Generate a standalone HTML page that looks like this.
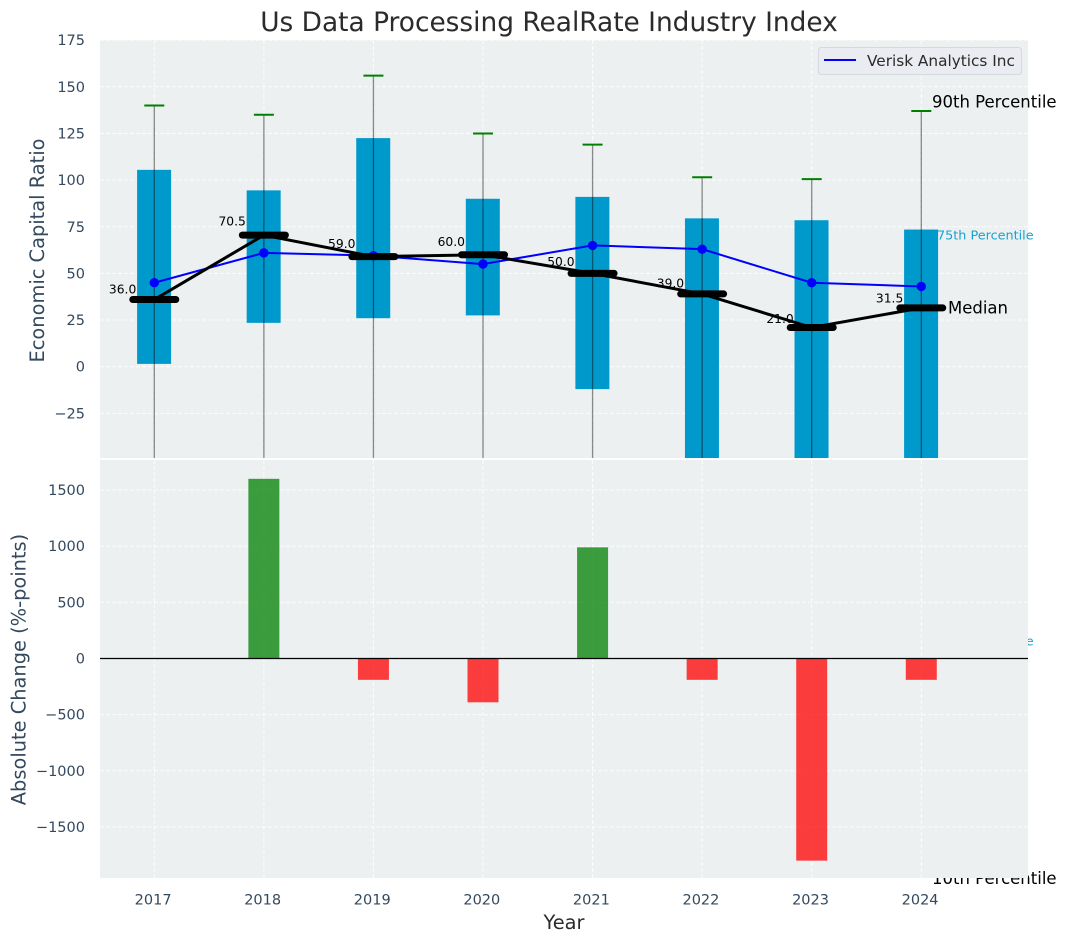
<!DOCTYPE html>
<html><head><meta charset="utf-8"><title>Us Data Processing RealRate Industry Index</title>
<style>html,body{margin:0;padding:0;background:#fff}svg{display:block}text{font-family:"DejaVu Sans",sans-serif}</style>
</head><body>
<svg id="chart" xmlns="http://www.w3.org/2000/svg" width="1067" height="942" viewBox="0 0 1067 942"></svg>
<script>
const years = [2017, 2018, 2019, 2020, 2021, 2022, 2023, 2024];
const p90 = [140, 135, 156, 125, 119, 101.5, 100.5, 137];
const p75 = [105.5, 94.5, 122.5, 90, 91, 79.5, 78.5, 73.5];
const medians = [36, 70.5, 59, 60, 50, 39, 21, 31.5];
const p25 = [1.5, 23.5, 26, 27.5, -12, -75, -100, -147];
const p10 = [-110, -90, -70, -100, -130, -150, -170, -274];
const verisk = [45, 61, 59.5, 55, 65, 63, 45, 43];
const changeYears = [2018, 2019, 2020, 2021, 2022, 2023, 2024];
const changes = [1600, -190, -390, 990, -190, -1800, -190];
const topTicks = [175, 150, 125, 100, 75, 50, 25, 0, -25];
const bottomTicks = [1500, 1000, 500, 0, -500, -1000, -1500];

const NS = 'http://www.w3.org/2000/svg';
const svg = document.getElementById('chart');
const L = 100, R = 1028, T1 = 40, B1 = 458, T2 = 460, B2 = 878;
const X = v => 154.3 + (v - 2017) * 109.57;
const Y1 = v => 366.7 - v * 1.866;
const Y2 = v => 658.5 - v * 0.1123;

function el(tag, attrs, parent, txt) {
  const e = document.createElementNS(NS, tag);
  for (const k in attrs) e.setAttribute(k, attrs[k]);
  if (txt !== undefined) e.textContent = txt;
  (parent || svg).appendChild(e);
  return e;
}
function minus(v) { return String(v).replace('-', '\u2212'); }

const defs = el('defs', {});


const cp1 = el('clipPath', { id: 'clip-top' }, defs);
el('rect', { x: L, y: T1, width: R - L, height: B1 - T1 }, cp1);
const cp2 = el('clipPath', { id: 'clip-bottom' }, defs);
el('rect', { x: L, y: T2, width: R - L, height: B2 - T2 }, cp2);

const title = el('text', { x: 549, y: 31, 'text-anchor': 'middle', 'font-size': 26.4, fill: '#2b2b2b' }, svg, 'Us Data Processing RealRate Industry Index');



/* ---- top panel ---- */
const topPanel = el('g', {});


const topBg = el('rect', { x: L, y: T1, width: R - L, height: B1 - T1, fill: '#ecf0f1' }, topPanel);



const clipTop = el('g', { 'clip-path': 'url(#clip-top)' }, topPanel);



topTicks.forEach(t => {
  const g = el('line', { x1: L, x2: R, y1: Y1(t), y2: Y1(t), stroke: '#fff', 'stroke-width': 1, 'stroke-dasharray': '4 2', opacity: 0.85 }, clipTop);
  
  
  const lab = el('text', { x: 85, y: Y1(t) + 5, 'text-anchor': 'end', 'font-size': 14.5, fill: '#34495e' }, topPanel, minus(t));
  
  
});
years.forEach(y => {
  const g = el('line', { x1: X(y), x2: X(y), y1: T1, y2: B1, stroke: '#fff', 'stroke-width': 1, 'stroke-dasharray': '4 2', opacity: 0.85 }, clipTop);
  
  
});

years.forEach((y, i) => {
  const box = el('rect', { x: X(y) - 17.2, y: Y1(p75[i]), width: 34, height: Y1(p25[i]) - Y1(p75[i]), fill: '#0099cc' }, clipTop);
  
  
  const wh = el('line', { x1: X(y), x2: X(y), y1: Y1(p90[i]), y2: Y1(p10[i]), stroke: '#000', 'stroke-opacity': 0.45, 'stroke-width': 1.3 }, clipTop);
  
  
  const cap = el('line', { x1: X(y) - 10, x2: X(y) + 10, y1: Y1(p90[i]), y2: Y1(p90[i]), stroke: '#008000', 'stroke-width': 2 }, clipTop);
  
  
});

const vLine = el('polyline', { points: years.map((y, i) => X(y) + ',' + Y1(verisk[i])).join(' '), fill: 'none', stroke: '#0000ff', 'stroke-width': 2 }, clipTop);


years.forEach((y, i) => {
  const pt = el('circle', { cx: X(y), cy: Y1(verisk[i]), r: 4.7, fill: '#0000ff' }, clipTop);
  
  
});

const mLine = el('polyline', { points: years.map((y, i) => X(y) + ',' + Y1(medians[i])).join(' '), fill: 'none', stroke: '#000', 'stroke-width': 3 }, clipTop);


years.forEach((y, i) => {
  const m = el('line', { x1: X(y) - 21.5, x2: X(y) + 21.5, y1: Y1(medians[i]), y2: Y1(medians[i]), stroke: '#000', 'stroke-width': 7, 'stroke-linecap': 'round' }, clipTop);
  
  
  const lab = el('text', { x: X(y) - 18, y: Y1(medians[i]) - (2.2 + 0.105 * medians[i]), 'text-anchor': 'end', 'font-size': 12.3, fill: '#000' }, topPanel, medians[i].toFixed(1));
  
  
});

const lastIdx = years.length - 1;
const lastX = X(years[lastIdx]);
const l90 = el('text', { x: lastX + 10.7, y: Y1(p90[lastIdx]) - 3.5, 'font-size': 16.5, fill: '#000' }, topPanel, '90th Percentile');


const l75 = el('text', { x: lastX + 15.7, y: Y1(p75[lastIdx]) + 10, 'font-size': 12.8, fill: '#0099cc', opacity: 0.9 }, topPanel, '75th Percentile');


const l25 = el('text', { x: lastX + 15.7, y: Y1(p25[lastIdx]) + 4.5, 'font-size': 12.8, fill: '#0099cc', opacity: 0.9 }, topPanel, '25th Percentile');


const lMed = el('text', { x: lastX + 26.7, y: Y1(medians[lastIdx]) + 5.5, 'font-size': 16.5, fill: '#000' }, topPanel, 'Median');


const l10 = el('text', { x: lastX + 10.7, y: Y1(p10[lastIdx]) + 6, 'font-size': 16.5, fill: '#000' }, topPanel, '10th Percentile');



const legend = el('g', {}, topPanel);


const legendBox = el('rect', { x: 818.5, y: 47.5, width: 203, height: 27, rx: 3, fill: '#eaecf1', stroke: '#d5d8dc', 'stroke-width': 1 }, legend);


const legendLine = el('line', { x1: 824, x2: 856, y1: 60, y2: 60, stroke: '#0000ff', 'stroke-width': 2 }, legend);


const legendText = el('text', { x: 867, y: 66, 'font-size': 15.3, fill: '#2b2b2b' }, legend, 'Verisk Analytics Inc');



const yl1 = el('text', { transform: 'translate(44,250.5) rotate(-90)', 'text-anchor': 'middle', 'font-size': 19.4, fill: '#34495e' }, svg, 'Economic Capital Ratio');



/* ---- bottom panel ---- */
const botPanel = el('g', {});


const botBg = el('rect', { x: L, y: T2, width: R - L, height: B2 - T2, fill: '#ecf0f1' }, botPanel);


const clipBot = el('g', { 'clip-path': 'url(#clip-bottom)' }, botPanel);



bottomTicks.forEach(t => {
  const g = el('line', { x1: L, x2: R, y1: Y2(t), y2: Y2(t), stroke: '#fff', 'stroke-width': 1, 'stroke-dasharray': '4 2', opacity: 0.85 }, clipBot);
  
  
  const lab = el('text', { x: 85, y: Y2(t) + 5, 'text-anchor': 'end', 'font-size': 14.5, fill: '#34495e' }, botPanel, minus(t));
  
  
});
years.forEach(y => {
  const g = el('line', { x1: X(y), x2: X(y), y1: T2, y2: B2, stroke: '#fff', 'stroke-width': 1, 'stroke-dasharray': '4 2', opacity: 0.85 }, clipBot);
  
  
  const lab = el('text', { x: X(y) - 1.2, y: 904.5, 'text-anchor': 'middle', 'font-size': 14.5, fill: '#34495e' }, botPanel, String(y));
  
  
});
changeYears.forEach((y, i) => {
  const v = changes[i];
  const bar = el('rect', { x: X(y) - 15.5, y: Math.min(Y2(v), Y2(0)), width: 31, height: Math.abs(Y2(v) - Y2(0)), fill: v >= 0 ? '#008000' : '#ff0000', 'fill-opacity': 0.75 }, clipBot);
  
  
});
const zero = el('line', { x1: L, x2: R, y1: Y2(0), y2: Y2(0), stroke: '#000', 'stroke-width': 1.2 }, clipBot);



const yl2 = el('text', { transform: 'translate(25.5,669.5) rotate(-90)', 'text-anchor': 'middle', 'font-size': 19.4, fill: '#34495e' }, svg, 'Absolute Change (%-points)');


const xl = el('text', { x: 564, y: 929, 'text-anchor': 'middle', 'font-size': 19.4, fill: '#2b2b2b' }, svg, 'Year');


</script>
</body></html>
